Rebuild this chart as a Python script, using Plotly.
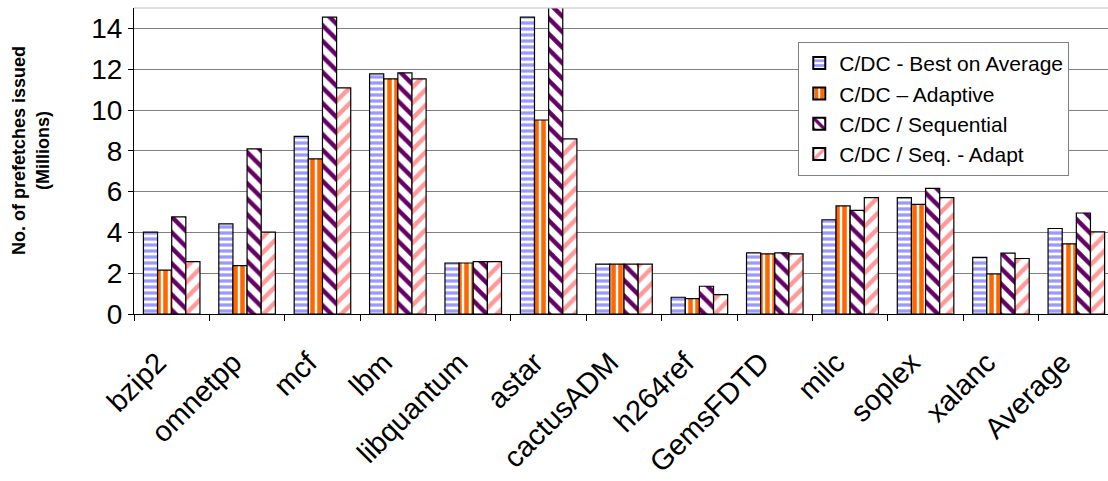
import plotly.graph_objects as go

categories = ["bzip2", "omnetpp", "mcf", "lbm", "libquantum", "astar", "cactusADM",
              "h264ref", "GemsFDTD", "milc", "soplex", "xalanc", "Average"]
best_on_average = [4.01, 4.42, 8.71, 11.77, 2.50, 14.55, 2.44, 0.82, 3.00, 4.62, 5.70, 2.78, 4.19]
adaptive = [2.15, 2.37, 7.60, 11.53, 2.50, 9.51, 2.44, 0.75, 2.95, 5.30, 5.37, 1.96, 3.44]
sequential = [4.76, 8.09, 14.55, 11.82, 2.57, 15.09, 2.44, 1.36, 3.00, 5.08, 6.16, 2.98, 4.95]
seq_adapt = [2.57, 4.01, 11.08, 11.53, 2.57, 8.58, 2.44, 0.95, 2.95, 5.70, 5.70, 2.72, 4.03]

series_names = ["C/DC - Best on Average", "C/DC \u2013 Adaptive", "C/DC / Sequential", "C/DC / Seq. - Adapt"]
series_values = [best_on_average, adaptive, sequential, seq_adapt]
colors = ["#9999ff", "#ff6600", "#660066", "#ff9999"]
shapes = ["-", "|", "\\", "/"]
sizes = [6, 7, 11, 11]
solidities = [0.55, 0.65, 0.4, 0.4]

fig = go.Figure()
for name, vals, c, sh, sz, so in zip(series_names, series_values, colors, shapes, sizes, solidities):
    fig.add_trace(go.Bar(
        x=categories, y=vals, name=name,
        marker=dict(color="white", line=dict(color="black", width=1.2),
                    pattern=dict(shape=sh, fgcolor=c, bgcolor="white", size=sz,
                                 solidity=so, fillmode="replace")),
    ))

font_family = "Liberation Sans, Arial, sans-serif"
fig.update_layout(
    width=1108, height=481,
    margin=dict(l=134, r=0, t=8, b=167),
    paper_bgcolor="white", plot_bgcolor="white",
    barmode="group", bargap=0.25, bargroupgap=0,
    font=dict(family=font_family, color="black"),
    showlegend=True,
    legend=dict(x=0.682, y=0.889, xanchor="left", yanchor="top",
                bgcolor="white", bordercolor="#808080", borderwidth=1,
                font=dict(size=21, family=font_family), tracegroupgap=0,
                itemsizing="constant"),
    xaxis=dict(range=[-0.5, 12.42], showline=True, linecolor="black", linewidth=1,
               ticks="outside", tickson="boundaries", ticklen=6, tickcolor="black",
               tickangle=-45, tickfont=dict(size=29, family=font_family),
               ticklabelstandoff=19, ticklabelshift=-14,
               showgrid=False, zeroline=False),
    yaxis=dict(range=[0, 15], dtick=2, showline=True, linecolor="black", linewidth=1,
               ticks="outside", ticklen=5, tickcolor="black",
               tickfont=dict(size=28, family=font_family),
               showgrid=True, gridcolor="#808080", gridwidth=1, zeroline=False),
    annotations=[dict(text="<b>No. of prefetches issued<br>(Millions)</b>",
                      xref="paper", yref="paper", x=-0.106, y=0.535, xanchor="center",
                      yanchor="middle", textangle=-90, showarrow=False,
                      font=dict(size=18, family=font_family))],
    shapes=[dict(type="line", xref="paper", yref="paper", x0=0, x1=1, y0=1, y1=1,
                 line=dict(color="#c0c0c0", width=1))],
)

fig.write_html("out.html")
